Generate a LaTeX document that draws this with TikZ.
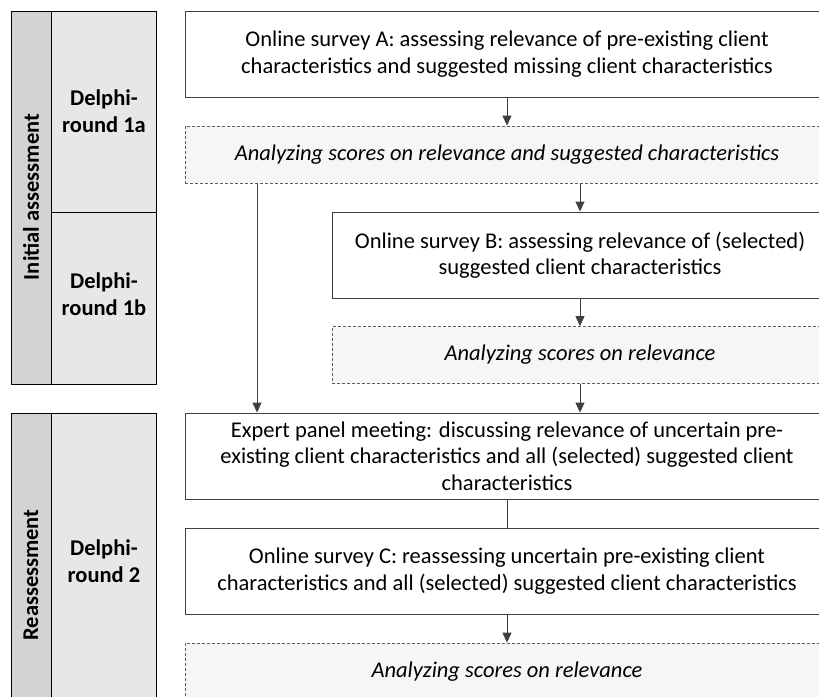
\documentclass[tikz,border=0pt]{standalone}
\usepackage{fontspec}
\setmainfont{Carlito}
\usetikzlibrary{arrows.meta}

\definecolor{stripgray}{HTML}{D5D2D2}
\definecolor{roundgray}{HTML}{E8E7E6}
\definecolor{dashfill}{HTML}{F6F6F6}
\definecolor{edgegray}{HTML}{404040}

\begin{document}
\begin{tikzpicture}[x=1pt, y=-1pt,
        txt/.style ={font=\fontsize{22.5}{26.5}\selectfont},
        stepbox/.style ={txt, draw=edgegray, line width=0.9pt, fill=white,
            align=center, inner sep=0pt, minimum height=86pt},
        anabox/.style ={txt, draw=edgegray!85, dash pattern=on 3pt off 2pt,
            line width=0.8pt, fill=dashfill, inner sep=0pt, minimum height=57pt},
        lbl/.style ={font=\fontsize{22.5}{26.5}\selectfont\bfseries, align=center},
        arr/.style ={-{Triangle[length=10pt,width=9pt]}, draw=edgegray, line width=0.9pt}]
    \useasboundingbox (0,0) rectangle (819,696);
    \clip (0,0) rectangle (819,696);

    %--- Phase column ---
    \fill[stripgray] (11,11) rectangle (51,384);
    \fill[roundgray] (51,11) rectangle (156,384);
    \draw[line width=0.9pt] (11,11) rectangle (156,384);
    \draw[line width=0.9pt] (51,11) -- (51,384) (51,212) -- (156,212);

    \fill[stripgray] (11,413) rectangle (51,737);
    \fill[roundgray] (51,413) rectangle (156,737);
    \draw[line width=0.9pt] (11,413) rectangle (156,737);
    \draw[line width=0.9pt] (51,413) -- (51,737);

    \node[lbl, rotate=90] (init) at (31,197) {Initial assessment};
    \node[lbl] (r1a) at (104,111) {Delphi-\\round 1a};
    \node[lbl] (r1b) at (104,294) {Delphi-\\round 1b};
    \node[lbl, rotate=90] (reas) at (31,575) {Reassessment};
    \node[lbl] (r2) at (104,561) {Delphi-\\round 2};

    %--- Steps ---
    \node[stepbox, minimum width=644pt] (A) at (507,54)
        {Online survey A: assessing relevance of pre-existing client\\
         characteristics and suggested missing client characteristics};
    \node[anabox, minimum width=644pt] (d1) at (507,154.5)
        {\itshape Analyzing scores on relevance and suggested characteristics};
    \node[stepbox, minimum width=496pt] (B) at (580,255)
        {Online survey B: assessing relevance of (selected)\\
         suggested client characteristics};
    \node[anabox, minimum width=496pt] (d2) at (580,355)
        {\itshape Analyzing scores on relevance};
    \node[stepbox, minimum width=644pt] (E) at (507,456)
        {Expert panel meeting: discussing relevance of uncertain pre-\\
         existing client characteristics and all (selected) suggested client\\
         characteristics};
    \node[stepbox, minimum width=644pt] (C) at (507,571)
        {Online survey C: reassessing uncertain pre-existing client\\
         characteristics and all (selected) suggested client characteristics};
    \node[anabox, minimum width=644pt] (d3) at (507,671.5)
        {\itshape Analyzing scores on relevance};
    \coordinate (lx) at (257,0);

    %--- Connectors ---
    \draw[arr] (A) -- (d1);
    \draw[arr] (d1.south -| B) -- (B);
    \draw[arr] (d1.south -| lx) -- (E.north -| lx);
    \draw[arr] (B) -- (d2);
    \draw[arr] (d2) -- (d2 |- E.north);
    \draw[draw=edgegray, line width=0.9pt] (E) -- (C);
    \draw[arr] (C) -- (d3);

\end{tikzpicture}
\end{document}
